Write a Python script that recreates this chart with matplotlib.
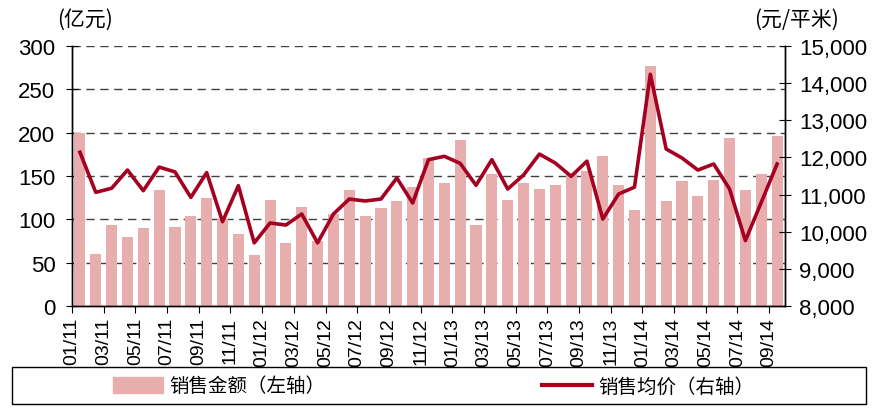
import numpy as np
import matplotlib
matplotlib.use("Agg")
import matplotlib.pyplot as plt
from matplotlib import font_manager
from matplotlib.patches import Rectangle
from matplotlib.lines import Line2D
from matplotlib.patches import Patch

# 数据（月度：2011/01 - 2014/09）
sales_amount = [200, 60, 93, 80, 90, 134, 91, 104, 125, 100, 83, 59,
                122, 73, 114, 75, 106, 134, 104, 113, 121, 137, 171, 142,
                191, 93, 152, 122, 142, 135, 140, 153, 156, 173, 140, 111,
                277, 121, 144, 127, 145, 194, 134, 152, 196]
avg_price = [12140, 11060, 11170, 11660, 11105, 11740, 11610, 10925, 11590, 10270, 11240, 9700,
             10235, 10180, 10477, 9700, 10477, 10880, 10827, 10880, 11446, 10773, 11940, 12030,
             11840, 11250, 11940, 11150, 11527, 12090, 11850, 11490, 11900, 10342, 11015, 11200,
             14240, 12227, 11985, 11660, 11823, 11150, 9760, 10790, 11823]
tick_labels = ["01/11", "03/11", "05/11", "07/11", "09/11", "11/11",
               "01/12", "03/12", "05/12", "07/12", "09/12", "11/12",
               "01/13", "03/13", "05/13", "07/13", "09/13", "11/13",
               "01/14", "03/14", "05/14", "07/14", "09/14"]

names = {f.name for f in font_manager.fontManager.ttflist}
num_font = "Liberation Sans Narrow" if "Liberation Sans Narrow" in names else "Liberation Sans"
cjk = ["Noto Sans CJK SC", "DejaVu Sans"]

bar_color = "#E8AEAE"
line_color = "#A50021"

fig = plt.figure(figsize=(8.77, 4.10), dpi=100)
ax = fig.add_axes([72/877, 103/410, 713/877, 260/410])
ax2 = ax.twinx()

x = np.arange(len(sales_amount))
ax.bar(x, sales_amount, width=0.7, color=bar_color, zorder=2)
ax.set_axisbelow(True)
ax.set_ylim(0, 300)
ax.set_yticks(np.arange(0, 301, 50))
ax.set_xlim(-0.5, len(x) - 0.5)
ax.grid(axis="y", color="#404040", linestyle=(0, (6, 4)), linewidth=1)

ax2.plot(x, avg_price, color=line_color, linewidth=2.6, solid_joinstyle="round")
ax2.set_ylim(8000, 15000)
ax2.set_yticks(np.arange(8000, 15001, 1000))
ax2.set_yticklabels([f"{v:,}" for v in range(8000, 15001, 1000)])

ax.set_xticks(np.arange(0, len(x), 2) - 0.5)
ax.set_xticklabels(tick_labels, rotation=90, fontsize=14, family=num_font)

for a in (ax, ax2):
    a.spines["top"].set_visible(False)
    for s in a.spines.values():
        s.set_color("black")
        s.set_linewidth(1)
ax.tick_params(axis="y", direction="inout", length=8, labelsize=16, pad=8)
ax2.tick_params(axis="y", direction="inout", length=8, labelsize=16, pad=6)
ax.tick_params(axis="x", direction="out", length=5, pad=3)
for lab in ax.get_yticklabels() + ax2.get_yticklabels():
    lab.set_family(num_font)

fig.text(85/877, 390/410, "(亿元)", ha="center", va="center", fontsize=15, family=cjk)
fig.text(797/877, 390/410, "(元/平米)", ha="center", va="center", fontsize=15, family=cjk)

# 图例框
fig.patches.append(Rectangle((12/877, 5/410), 854/877, 37/410, transform=fig.transFigure,
                             fill=False, edgecolor="black", linewidth=1))
leg1 = fig.legend(handles=[Patch(color=bar_color, label="销售金额（左轴）")],
                  loc="center left", bbox_to_anchor=(95/877, 23/410), frameon=False,
                  handlelength=2.6, handleheight=0.9, handletextpad=0.3,
                  prop={"family": cjk, "size": 14})
leg2 = fig.legend(handles=[Line2D([], [], color=line_color, linewidth=3, label="销售均价（右轴）")],
                  loc="center left", bbox_to_anchor=(524/877, 23/410), frameon=False,
                  handlelength=2.6, handletextpad=0.3,
                  prop={"family": cjk, "size": 14})

fig.savefig("out.png", dpi=100)
